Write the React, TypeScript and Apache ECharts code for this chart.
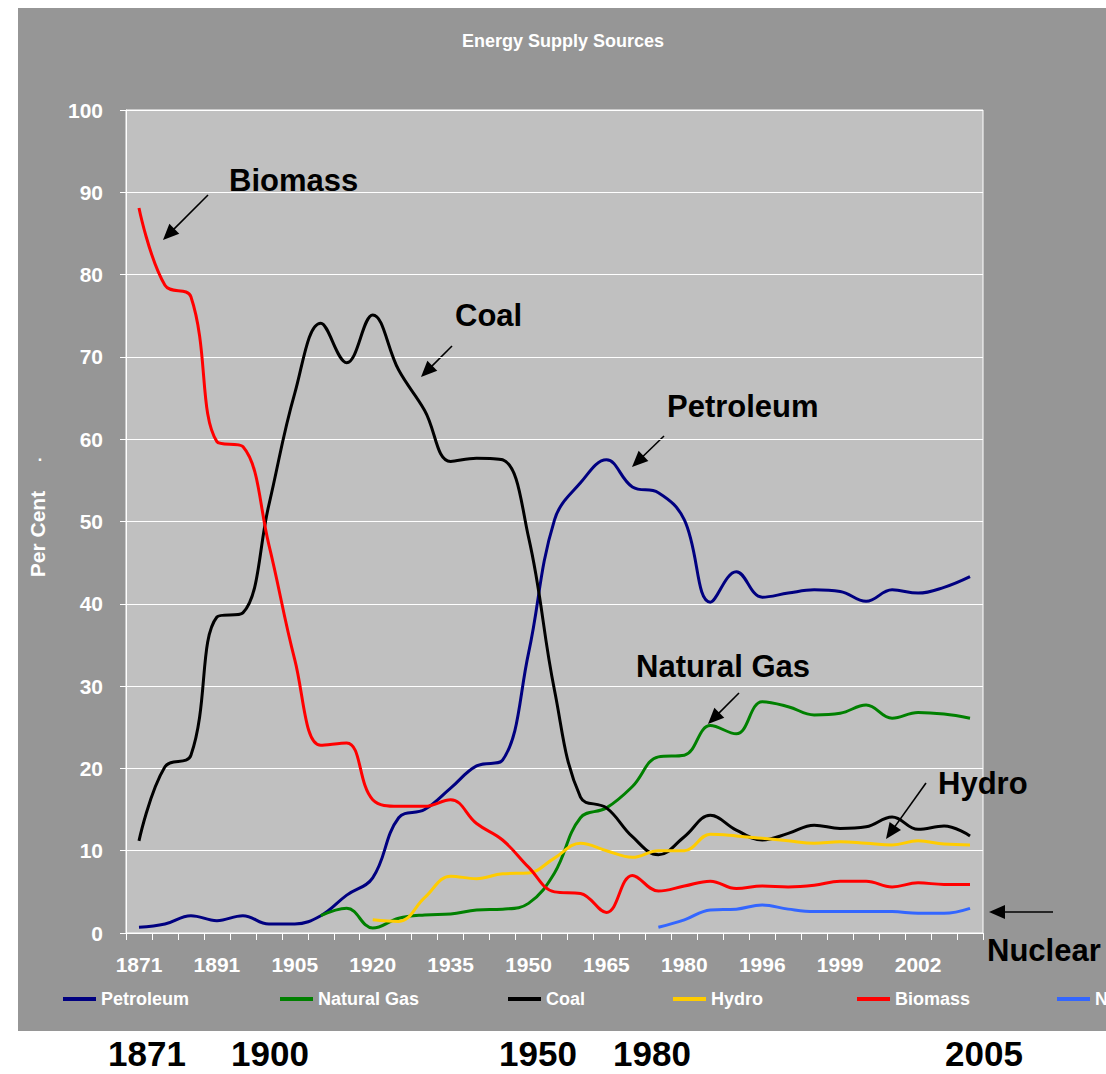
import React, { useEffect, useRef } from "react";
import * as echarts from "echarts";

const categories = [
  "1871", "1877", "1884", "1891", "1896", "1900", "1905", "1910", "1915",
  "1920", "1925", "1930", "1935", "1940", "1945", "1950", "1955", "1960",
  "1965", "1970", "1975", "1980", "1985", "1990", "1996", "1997", "1998",
  "1999", "2000", "2001", "2002", "2003", "2004",
];

const petroleum = [
  0.7, 1.1, 2.1, 1.5, 2.1, 1.1, 1.1, 2.1, 4.6, 6.7, 14.0, 15.0, 17.6, 20.3, 21.0,
  34.0, 50.2, 54.7, 57.5, 54.2, 53.5, 50.2, 40.2, 43.9, 40.8, 41.3, 41.7, 41.5,
  40.3, 41.7, 41.3, 42.0, 43.3,
];

const naturalGas = [
  null, null, null, null, null, null, null, 2.1, 3.0, 0.6, 1.8, 2.2, 2.3, 2.8, 2.9,
  3.6, 7.3, 14.0, 15.2, 17.8, 21.4, 21.6, 25.2, 24.2, 28.1, 27.5, 26.5, 26.7,
  27.7, 26.1, 26.8, 26.6, 26.1,
];

const coal = [
  11.2, 20.2, 21.6, 38.4, 38.9, 52.0, 65.6, 74.1, 69.3, 75.1, 68.4, 63.5, 57.3,
  57.7, 57.5, 48.1, 29.5, 16.5, 15.2, 11.7, 9.5, 11.7, 14.3, 12.5, 11.3, 12.1,
  13.1, 12.7, 12.9, 14.1, 12.6, 13.0, 11.8,
];

const hydro = [
  null, null, null, null, null, null, null, null, null, 1.6, 1.4, 4.3, 6.9, 6.6,
  7.2, 7.3, 9.1, 10.9, 10.0, 9.2, 10.0, 10.0, 12.0, 11.8, 11.5, 11.2, 10.9, 11.1,
  10.9, 10.7, 11.2, 10.8, 10.7,
];

const biomass = [
  88.1, 78.7, 77.3, 59.7, 59.1, 47.2, 33.2, 22.8, 23.1, 16.2, 15.4, 15.4, 16.2,
  13.3, 11.3, 8.0, 5.0, 4.8, 2.5, 7.0, 5.1, 5.7, 6.3, 5.4, 5.7, 5.6, 5.8, 6.3,
  6.3, 5.6, 6.1, 5.9, 5.9,
];

const nuclear = [
  null, null, null, null, null, null, null, null, null, null, null, null, null,
  null, null, null, null, null, null, null, 0.7, 1.6, 2.8, 2.9, 3.4, 2.9, 2.6,
  2.6, 2.6, 2.6, 2.4, 2.4, 3.0,
];

const seriesNames = ["Petroleum", "Natural Gas", "Coal", "Hydro", "Biomass", "Nuclear"];
const seriesColors = ["#000080", "#008000", "#000000", "#FFCC00", "#FF0000", "#3366FF"];
const seriesData = [petroleum, naturalGas, coal, hydro, biomass, nuclear];

const bottomYears = ["1871", "1900", "1950", "1980", "2005"];

const FONT = "'Liberation Sans', Arial, Helvetica, sans-serif";

function arrow(x1: number, y1: number, x2: number, y2: number) {
  const dx = x2 - x1;
  const dy = y2 - y1;
  const len = Math.hypot(dx, dy);
  const ux = dx / len;
  const uy = dy / len;
  const hl = 16;
  const hw = 7;
  const bx = x2 - ux * hl;
  const by = y2 - uy * hl;
  return {
    type: "group",
    children: [
      { type: "line", shape: { x1, y1, x2: bx + ux * 2, y2: by + uy * 2 }, style: { stroke: "#000", lineWidth: 1.6 } },
      {
        type: "polygon",
        shape: { points: [[x2, y2], [bx - uy * hw, by + ux * hw], [bx + uy * hw, by - ux * hw]] },
        style: { fill: "#000" },
      },
    ],
  };
}

function label(text: string, x: number, y: number, size: number, color = "#000", align = "left") {
  return {
    type: "text",
    x,
    y,
    style: {
      text,
      fill: color,
      fontSize: size,
      fontWeight: "bold",
      fontFamily: FONT,
      align,
      verticalAlign: "middle",
      textAlign: align,
      textVerticalAlign: "middle",
    },
  };
}

export default function App() {
  const ref = useRef<HTMLDivElement>(null);

  useEffect(() => {
    if (!ref.current) return;
    const chart = echarts.init(ref.current, null, { renderer: "svg" });

    const legendLefts = [63, 280, 508, 673, 857, 1057];
    const bottomX = [147, 270, 538, 652, 984];

    const option: any = {
      animation: false,
      backgroundColor: "#ffffff",
      grid: {
        left: 126,
        top: 110,
        width: 857,
        height: 823,
        show: true,
        backgroundColor: "#C0C0C0",
        borderColor: "#ffffff",
        borderWidth: 1,
        containLabel: false,
        outerBoundsMode: "none",
      },
      legend: seriesNames.map((name, i) => ({
        data: [name],
        left: legendLefts[i],
        top: 989,
        icon: "rect",
        itemWidth: 33,
        itemHeight: 4,
        selectedMode: false,
        padding: 0,
        textStyle: {
          color: "#ffffff",
          fontWeight: "bold",
          fontSize: 18,
          fontFamily: FONT,
          lineHeight: 20,
        },
      })),
      xAxis: {
        type: "category",
        data: categories,
        boundaryGap: true,
        axisLine: { show: true, lineStyle: { color: "#ffffff", width: 1 } },
        axisTick: { show: true, interval: 0, length: 7, lineStyle: { color: "#ffffff" } },
        axisLabel: {
          interval: 2,
          color: "#ffffff",
          fontWeight: "bold",
          fontSize: 21,
          fontFamily: FONT,
          margin: 21,
        },
        splitLine: { show: false },
      },
      yAxis: {
        type: "value",
        min: 0,
        max: 100,
        interval: 10,
        axisLine: { show: true, lineStyle: { color: "#ffffff", width: 1 } },
        axisTick: { show: true, length: 6, lineStyle: { color: "#ffffff" } },
        axisLabel: {
          color: "#ffffff",
          fontWeight: "bold",
          fontSize: 21,
          fontFamily: FONT,
          margin: 23,
        },
        splitLine: { show: true, lineStyle: { color: "#ffffff", width: 1 } },
      },
      series: seriesNames.map((name, i) => ({
        name,
        type: "line",
        data: seriesData[i],
        smooth: 0.4,
        symbol: "none",
        connectNulls: false,
        lineStyle: { color: seriesColors[i], width: 3 },
        itemStyle: { color: seriesColors[i] },
        z: 3,
      })),
      graphic: [
        {
          type: "rect",
          z: -10,
          zlevel: 0,
          silent: true,
          shape: { x: 18, y: 8, width: 1200, height: 1023 },
          style: { fill: "#969696" },
        },
        label("Energy Supply Sources", 563, 41, 18, "#ffffff", "center"),
        {
          type: "text",
          x: 37,
          y: 534,
          rotation: Math.PI / 2,
          style: {
            text: "Per Cent",
            fill: "#ffffff",
            fontSize: 21,
            fontWeight: "bold",
            fontFamily: FONT,
            align: "center",
            verticalAlign: "middle",
            textAlign: "center",
            textVerticalAlign: "middle",
          },
        },
        label(".", 40, 455, 16, "#ffffff", "center"),
        label("Biomass", 229, 180, 31),
        arrow(208, 195, 163, 240),
        label("Coal", 455, 315, 31),
        arrow(452, 346, 421, 377),
        label("Petroleum", 667, 406, 31),
        arrow(664, 436, 632, 467),
        label("Natural Gas", 636, 666, 31),
        arrow(739, 693, 708, 724),
        label("Hydro", 938, 783, 31),
        arrow(926, 783, 886, 839),
        label("Nuclear", 987, 950, 31),
        arrow(1053, 912, 989, 912),
        ...bottomYears.map((t, i) => label(t, bottomX[i], 1053, 35, "#000", "center")),
      ],
    };

    chart.setOption(option);
    return () => chart.dispose();
  }, []);

  return (
    <div
      ref={ref}
      style={{ position: "fixed", left: 0, top: 0, width: 1106, height: 1074, overflow: "hidden" }}
    />
  );
}
